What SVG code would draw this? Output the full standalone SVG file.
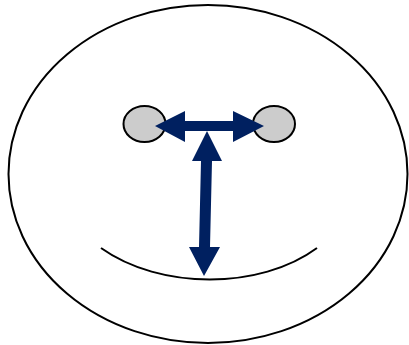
<svg xmlns="http://www.w3.org/2000/svg" width="409" height="345" viewBox="0 0 409 345">
<style>
.line{fill:none;stroke:#000;stroke-width:2}
.eye{fill:#cccccc;stroke:#000;stroke-width:2}
.arrow{fill:#002060;stroke:none}
</style>
<rect width="409" height="345" fill="#fff"/>
<g id="face"><ellipse class="line" cx="208" cy="174" rx="199.5" ry="169"/></g>
<g id="left-eye"><ellipse class="eye" cx="144.5" cy="124" rx="21" ry="18"/></g>
<g id="right-eye"><ellipse class="eye" cx="274" cy="124" rx="21" ry="18"/></g>
<g id="mouth"><path class="line" d="M101,248 C160,290 260,290 317,248" stroke-width="2.3"/></g>
<g id="connectors">
<polygon class="arrow" points="155,126 185,111 185,121 233,121 233,111 264,126 233,142 233,131 185,131 185,142"/>
<polygon class="arrow" points="207,131 222,161 212,161 210,247 220,247 204,276 189,247 199,247 201,161 192,161"/>
</g>
</svg>
